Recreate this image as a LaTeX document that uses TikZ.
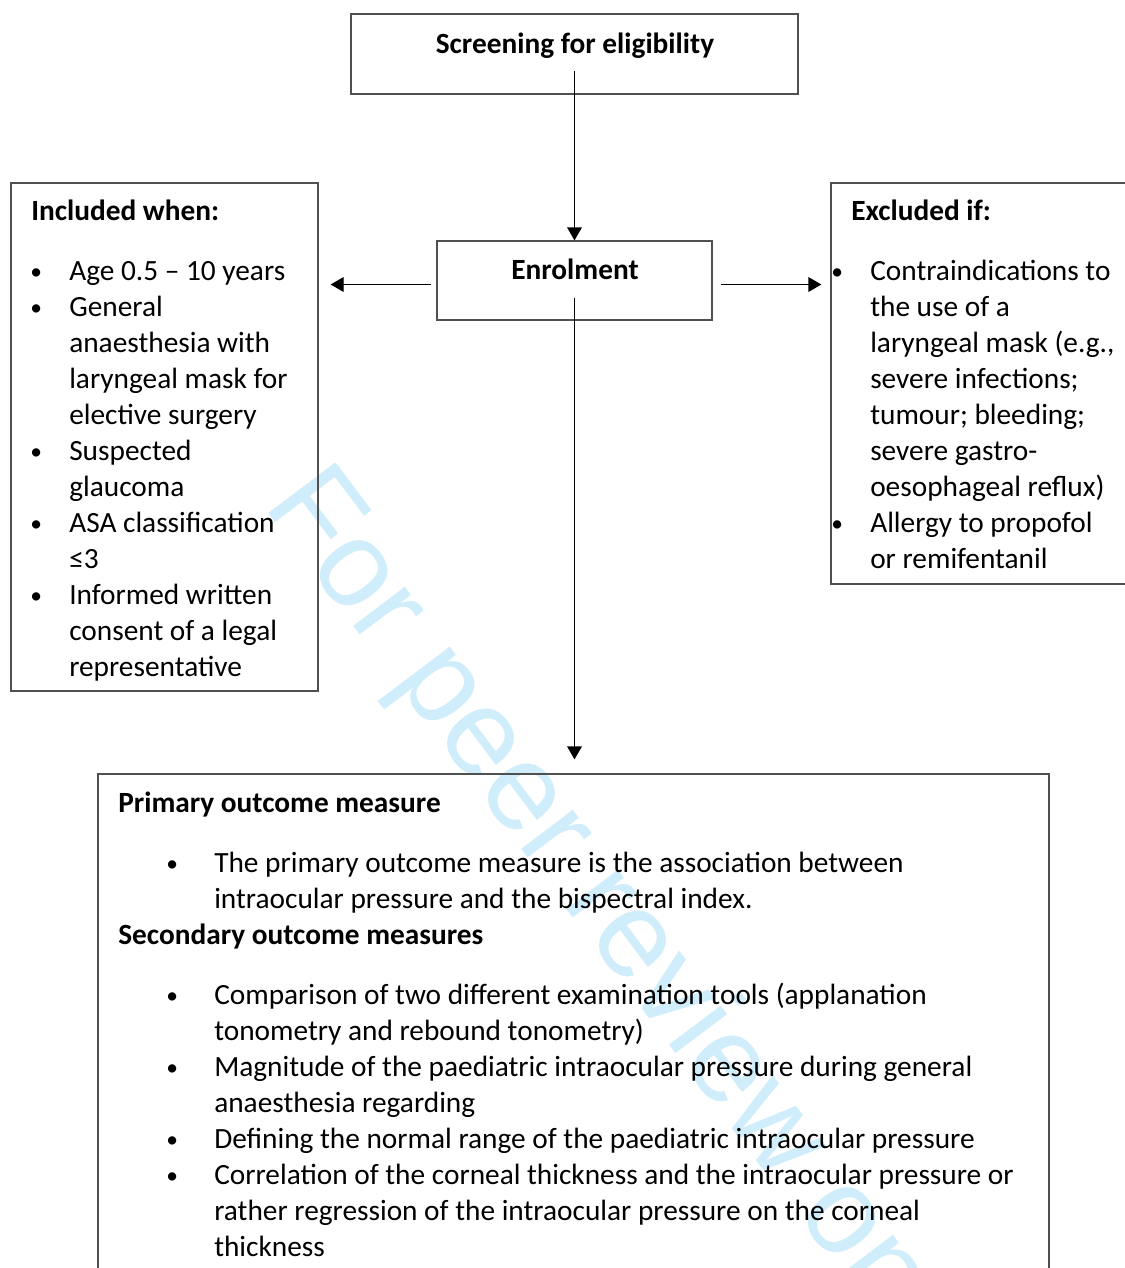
\documentclass[tikz,border=0pt]{standalone}
\usepackage{fontspec}
\setmainfont{Carlito}
\newfontfamily\wmfont{Liberation Sans}
\usetikzlibrary{arrows.meta,calc}
\definecolor{boxgray}{HTML}{505050}
\definecolor{wmcyan}{HTML}{CFEDFB}
\newcommand\fsz{\fontsize{22pt}{27pt}\selectfont}
\newcommand\bul[2]{\makebox[#2][l]{\hspace*{#1}\raisebox{1.2pt}{\scalebox{0.8}{\textbullet}}}}
\begin{document}
\begin{tikzpicture}[x=0.75pt,y=-0.75pt,
  frame/.style={draw=boxgray,line width=0.9pt,inner sep=0pt},
  txt/.style={font=\fsz,inner sep=0pt,align=left,anchor=north west},
  conn/.style={line width=0.9pt,-{Triangle[length=9.75pt,width=11pt]}}]
\clip (0,0) rectangle (1125,1268);
% watermark
\node[font=\wmfont\fontsize{92pt}{92pt}\selectfont, text=wmcyan, rotate=-53,
      anchor=base west, inner sep=0pt] (wm) at (262,505) {For peer review only};
% frames
\node[frame,minimum width=335.25pt,minimum height=60pt] (screen) at (574.5,54) {};
\node[frame,minimum width=206.25pt,minimum height=59.25pt] (enrol) at (574.5,280.5) {};
\node[frame,minimum width=230.25pt,minimum height=381pt] (incl) at (164.5,437) {};
\node[frame,minimum width=231.75pt,minimum height=300.75pt] (excl) at (985.5,383.5) {};
\node[frame,minimum width=713.25pt,minimum height=387pt] (outcome) at (573.5,1032) {};
% labels
\node[txt,anchor=base,font=\fsz\bfseries] (screenlbl) at (575,53.5) {Screening for eligibility};
\node[txt,anchor=base,font=\fsz\bfseries] (enrollbl) at (575,279.5) {Enrolment};
\node[txt] (incltxt) at (31,195.3) {\strut\textbf{Included when:}\\[18pt]
\bul{-0.7pt}{28.5pt}Age 0.5 – 10 years\\
\bul{-0.7pt}{28.5pt}General\\
\hspace*{28.5pt}anaesthesia with\\
\hspace*{28.5pt}laryngeal mask for\\
\hspace*{28.5pt}elective surgery\\
\bul{-0.7pt}{28.5pt}Suspected\\
\hspace*{28.5pt}glaucoma\\
\bul{-0.7pt}{28.5pt}ASA classification\\
\hspace*{28.5pt}≤3\\
\bul{-0.7pt}{28.5pt}Informed written\\
\hspace*{28.5pt}consent of a legal\\
\hspace*{28.5pt}representative};
\node[txt] (excltxt) at (834,195.3) {\strut\hspace*{12.75pt}\textbf{Excluded if:}\\[18pt]
\bul{-2.2pt}{27pt}Contraindications to\\
\hspace*{27pt}the use of a\\
\hspace*{27pt}laryngeal mask (e.g.,\\
\hspace*{27pt}severe infections;\\
\hspace*{27pt}tumour; bleeding;\\
\hspace*{27pt}severe gastro-\\
\hspace*{27pt}oesophageal reflux)\\
\bul{-2.2pt}{27pt}Allergy to propofol\\
\hspace*{27pt}or remifentanil};
\node[txt] (outtxt) at (118,787.3) {\strut\textbf{Primary outcome measure}\\[18pt]
\bul{36pt}{72pt}The primary outcome measure is the association between\\
\hspace*{72pt}intraocular pressure and the bispectral index.\\
\textbf{Secondary outcome measures}\\[18pt]
\bul{36pt}{72pt}Comparison of two different examination tools (applanation\\
\hspace*{72pt}tonometry and rebound tonometry)\\
\bul{36pt}{72pt}Magnitude of the paediatric intraocular pressure during general\\
\hspace*{72pt}anaesthesia regarding\\
\bul{36pt}{72pt}Defining the normal range of the paediatric intraocular pressure\\
\bul{36pt}{72pt}Correlation of the corneal thickness and the intraocular pressure or\\
\hspace*{72pt}rather regression of the intraocular pressure on the corneal\\
\hspace*{72pt}thickness};
% connectors
\draw[conn] ($(screen.south)+(0,-24)$) -- (enrol.north);
\draw[conn] ($(enrol.south)+(0,-23)$) -- ($(enrol.south |- outcome.north)+(0,-14)$);
\draw[conn] ($(enrol.west)+(-5,4)$) -- ($(incl.east |- enrol.west)+(12,4)$);
\draw[conn] ($(enrol.east)+(8,4)$) -- ($(excl.west |- enrol.east)+(-9,4)$);
\end{tikzpicture}
\end{document}
